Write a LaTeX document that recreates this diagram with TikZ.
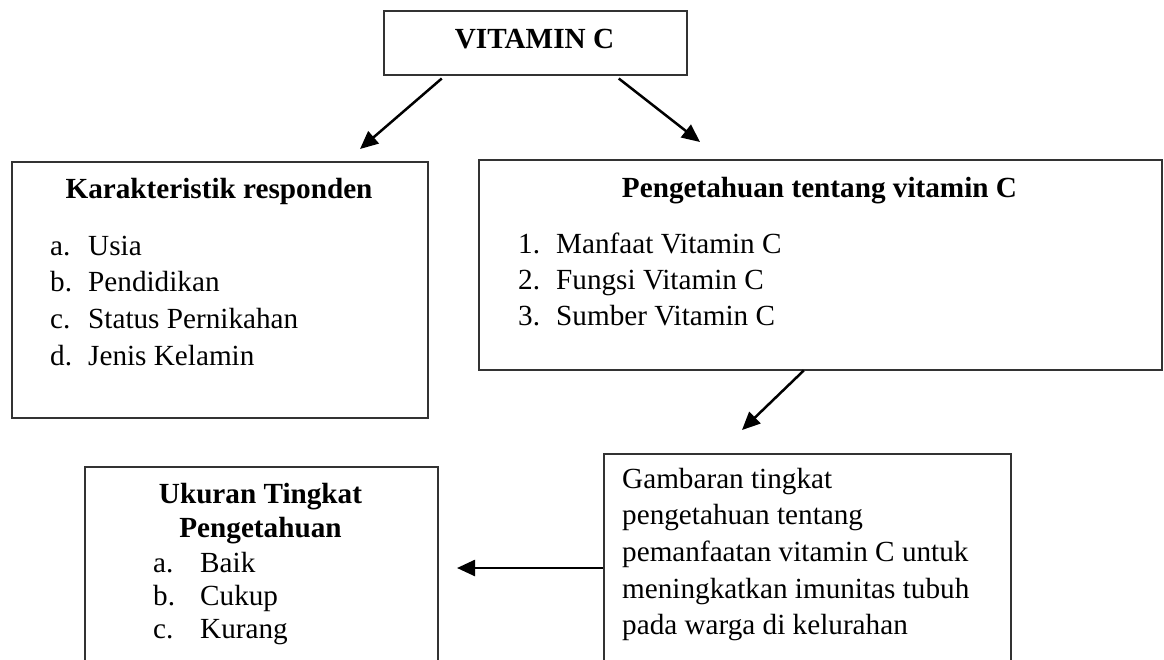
\documentclass[tikz,border=0pt]{standalone}
\usepackage{fontspec}
\setmainfont{Liberation Serif}
\usetikzlibrary{positioning,arrows.meta}
\newcommand{\hurufisi}{\fontsize{29.2pt}{35pt}\selectfont}
\tikzset{
  kotak/.style={draw=black!80, line width=1.5pt, rectangle, inner sep=0pt, anchor=north west},
  judul/.style={font=\hurufisi\bfseries, inner sep=0pt, anchor=base},
  butir/.style={font=\hurufisi, inner sep=0pt, anchor=base west},
  panah/.style={line width=2.5pt, -{Triangle[length=18pt,width=16pt]}},
}

\begin{document}
\begin{tikzpicture}[x=1pt,y=-1pt]
  \useasboundingbox (0,0) rectangle (1164,659);
  \clip (0,0) rectangle (1164,659);
  \node[kotak, minimum width=303pt, minimum height=64pt] (vitamin) at (383,10) {};
  \node[judul] (judulV) at (534.5,48) {VITAMIN C};
  \node[kotak, minimum width=416pt, minimum height=256pt] (karakteristik) at (11,161) {};
  \node[judul] (judulK) at (219,198) {Karakteristik responden};
  \foreach \i/\huruf/\teks in {0/a/Usia,1/b/Pendidikan,2/c/Status Pernikahan,3/d/Jenis Kelamin} {
    \node[butir] (hurufK\i) at (50,{255+36.7*\i}) {\huruf.};
    \node[butir] (isiK\i) at (88,{255+36.7*\i}) {\teks};
  }
  \node[kotak, minimum width=683pt, minimum height=210pt] (pengetahuan) at (478,159) {};
  \node[judul] (judulP) at (819.5,197) {Pengetahuan tentang vitamin C};
  \foreach \i/\teks in {1/Manfaat Vitamin C,2/Fungsi Vitamin C,3/Sumber Vitamin C} {
    \node[butir] (nomorP\i) at (518,{217+36*\i}) {\i.};
    \node[butir] (isiP\i) at (556,{217+36*\i}) {\teks};
  }
  \node[kotak, minimum width=407pt, minimum height=250pt] (gambaran) at (603,453) {};
  \foreach \i/\teks in {0/Gambaran tingkat,1/pengetahuan tentang,2/pemanfaatan vitamin C untuk,3/meningkatkan imunitas tubuh,4/pada warga di kelurahan}
    \node[butir] (barisG\i) at (622,{488+36.7*\i}) {\teks};
  \node[kotak, minimum width=353pt, minimum height=250pt] (ukuran) at (84,466) {};
  \node[judul] (judulU1) at (260.5,503) {Ukuran Tingkat};
  \node[judul] (judulU2) at (260.5,537) {Pengetahuan};
  \foreach \i/\huruf/\teks in {0/a/Baik,1/b/Cukup,2/c/Kurang} {
    \node[butir] (hurufU\i) at (153,{572+33*\i}) {\huruf.};
    \node[butir] (isiU\i) at (200,{572+33*\i}) {\teks};
  }
  \coordinate (ujungK) at (360,149);
  \coordinate (ujungP) at (700,142);
  \coordinate (ujungG) at (742,430);
  \coordinate (ujungU) at (457,568);
  \draw[panah] ([xshift=-93.5pt,yshift=-3pt]vitamin.south) -- (ujungK);
  \draw[panah] ([xshift=83.5pt,yshift=-3pt]vitamin.south) -- (ujungP);
  \draw[panah] ([xshift=-16.5pt]pengetahuan.south) -- (ujungG);
  \draw[panah] (gambaran.west |- ujungU) -- (ujungU);
\end{tikzpicture}
\end{document}
